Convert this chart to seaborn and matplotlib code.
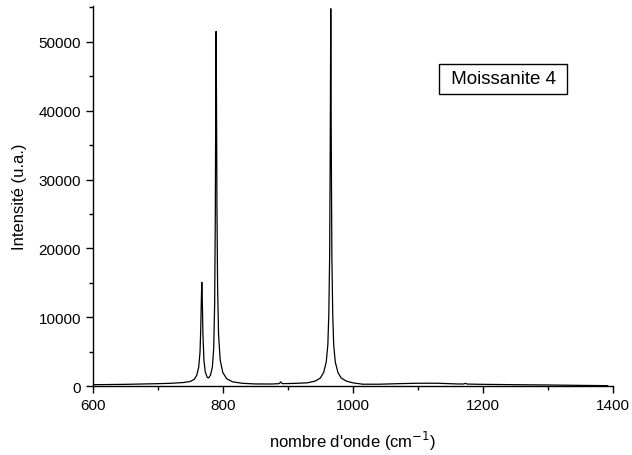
import matplotlib
matplotlib.use("Agg")
import matplotlib.pyplot as plt
import seaborn as sns
import pandas as pd
from matplotlib.ticker import MultipleLocator

# Spectre Raman (nombre d'onde en cm-1, intensité en u.a.)
nombre_onde = [600, 650, 700, 720, 740, 750, 756, 760, 763, 765, 766, 767, 767.7,
               768.5, 769.5, 771, 773, 776, 778, 781, 784, 786, 787.5, 788.5, 789.2,
               789.7, 790.3, 791, 792, 793.5, 796, 800, 806, 815, 830, 850, 875,
               886, 888, 889, 890, 892, 910, 930, 942, 950, 955, 959, 961.5, 963,
               964.3, 965.2, 966, 966.8, 967.7, 969, 970.5, 973, 977, 982, 990,
               1000, 1015, 1040, 1070, 1100, 1130, 1160, 1170, 1173, 1176, 1200,
               1250, 1300, 1350, 1392]
intensite = [230, 280, 380, 430, 550, 700, 1000, 1600, 2800, 5000, 8000, 12500, 15100,
             12500, 7500, 3800, 2100, 1300, 1200, 1600, 2800, 5500, 12000, 25000, 42000,
             51500, 42000, 26000, 14500, 7500, 3800, 2000, 1100, 650, 430, 340, 330,
             380, 500, 650, 500, 380, 420, 500, 750, 1200, 2000, 3500, 6000, 10500,
             19000, 35000, 54800, 35000, 19000, 10500, 6000, 3500, 2000, 1200, 750,
             500, 300, 300, 380, 440, 440, 340, 330, 420, 320, 280,
             230, 190, 130, 90]

x_ticks = [600, 800, 1000, 1200, 1400]
y_ticks = [0, 10000, 20000, 30000, 40000, 50000]

sns.set_theme(style="ticks")
plt.rcParams['font.family'] = ['Liberation Sans', 'DejaVu Sans']
plt.rcParams['text.color'] = 'black'
plt.rcParams['axes.labelcolor'] = 'black'

df = pd.DataFrame({"x": nombre_onde, "y": intensite})

fig = plt.figure(figsize=(6.32, 4.56), dpi=100)
ax = fig.add_axes([0.1467, 0.1507, 0.8233, 0.8340])
sns.lineplot(data=df, x="x", y="y", ax=ax, color="black", linewidth=0.9,
             estimator=None, sort=True)

ax.set_xlim(600, 1400)
ax.set_ylim(0, 55200)
ax.set_xticks(x_ticks)
ax.set_yticks(y_ticks)
ax.xaxis.set_minor_locator(MultipleLocator(100))
ax.yaxis.set_minor_locator(MultipleLocator(5000))
ax.tick_params(which="major", direction="out", length=5, width=1, labelsize=11,
               color="black", labelcolor="black")
ax.tick_params(which="minor", direction="out", length=3, width=1, color="black")

for s in ["top", "right"]:
    ax.spines[s].set_visible(False)
for s in ["left", "bottom"]:
    ax.spines[s].set_color("black")
    ax.spines[s].set_linewidth(1)

ax.set_xlabel("nombre d'onde (cm$^{-1}$)", fontsize=12, labelpad=12)
ax.set_ylabel("Intensité (u.a.)", fontsize=12, labelpad=8)

ax.text(0.789, 0.808, " Moissanite 4 ", transform=ax.transAxes, fontsize=13.5,
        ha="center", va="center", color="black",
        bbox=dict(boxstyle="square,pad=0.35", facecolor="white", edgecolor="black",
                  linewidth=1))

fig.savefig("out.png", dpi=100)
